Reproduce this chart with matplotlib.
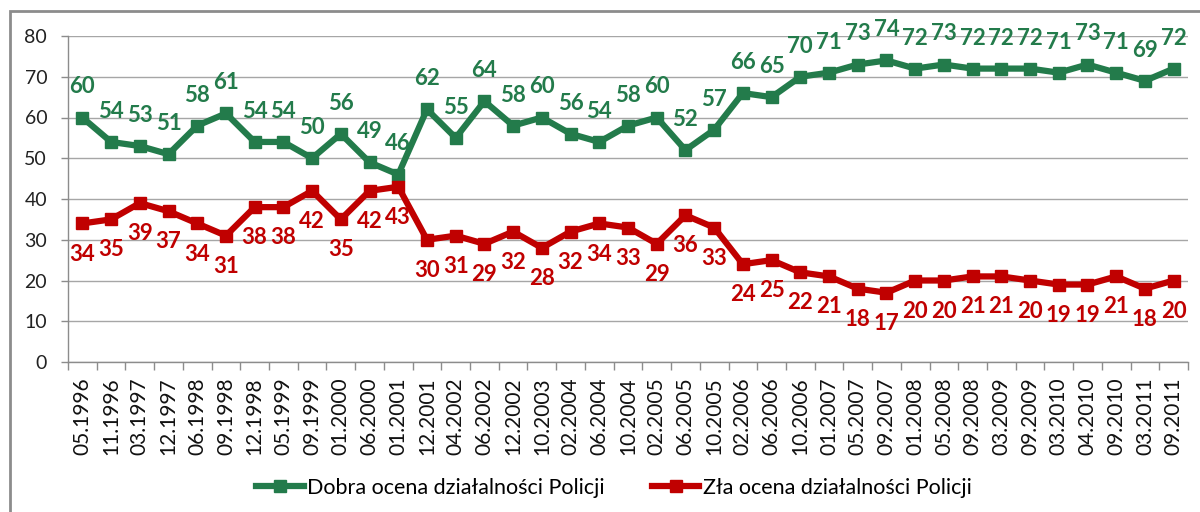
import matplotlib
matplotlib.use("Agg")
import matplotlib.pyplot as plt
from matplotlib.patches import Rectangle
from matplotlib.lines import Line2D

plt.rcParams['font.family'] = ['Lato', 'DejaVu Sans']

dates = ["05.1996", "11.1996", "03.1997", "12.1997", "06.1998", "09.1998", "12.1998",
         "05.1999", "09.1999", "01.2000", "06.2000", "01.2001", "12.2001", "04.2002",
         "06.2002", "12.2002", "10.2003", "02.2004", "06.2004", "10.2004", "02.2005",
         "06.2005", "10.2005", "02.2006", "06.2006", "10.2006", "01.2007", "05.2007",
         "09.2007", "01.2008", "05.2008", "09.2008", "03.2009", "09.2009", "03.2010",
         "04.2010", "09.2010", "03.2011", "09.2011"]
dobra = [60, 54, 53, 51, 58, 61, 54, 54, 50, 56, 49, 46, 62, 55, 64, 58, 60, 56, 54, 58,
         60, 52, 57, 66, 65, 70, 71, 73, 74, 72, 73, 72, 72, 72, 71, 73, 71, 69, 72]
zla = [34, 35, 39, 37, 34, 31, 38, 38, 42, 35, 42, 43, 30, 31, 29, 32, 28, 32, 34, 33,
       29, 36, 33, 24, 25, 22, 21, 18, 17, 20, 20, 21, 21, 20, 19, 19, 21, 18, 20]
label_dobra = "Dobra ocena działalności Policji"
label_zla = "Zła ocena działalności Policji"

GREEN = "#237b4b"
RED = "#c00000"
GRID = "#a6a6a6"
AXIS = "#8c8c8c"

fig = plt.figure(figsize=(12, 5.12), dpi=100)
fig.patches.append(Rectangle((10 / 1200, -0.1), 1.2, (1 - 11 / 512) + 0.1,
                             transform=fig.transFigure, fill=False,
                             edgecolor=AXIS, linewidth=2))

ax = fig.add_axes([68 / 1200, 1 - 362 / 512, (1188 - 68) / 1200, (362 - 36) / 512])
x = list(range(len(dates)))

ax.plot(x, dobra, color=GREEN, lw=4.5, marker="s", ms=9, zorder=3)
ax.plot(x, zla, color=RED, lw=4.5, marker="s", ms=9, zorder=4)

for xi, v in zip(x, dobra):
    ax.annotate(str(v), (xi, v), xytext=(0, 22), textcoords="offset points",
                ha="center", va="center", color=GREEN, fontsize=16, fontweight="bold")
for xi, v in zip(x, zla):
    ax.annotate(str(v), (xi, v), xytext=(0, -22), textcoords="offset points",
                ha="center", va="center", color=RED, fontsize=16, fontweight="bold")

ax.set_xlim(-0.5, len(dates) - 0.5)
ax.set_ylim(0, 80)
ax.set_yticks(range(0, 81, 10))
ax.tick_params(axis="y", labelsize=14, colors=AXIS, labelcolor="#222222",
               length=5, width=1, pad=10)
ax.grid(axis="y", color=GRID, lw=1)
ax.set_axisbelow(True)

ax.set_xticks(x)
ax.set_xticklabels(dates, rotation=90, fontsize=15, color="#111111")
ax.tick_params(axis="x", which="major", length=0, pad=11)
ax.set_xticks([i - 0.5 for i in range(len(dates) + 1)], minor=True)
ax.tick_params(axis="x", which="minor", length=6, width=1, colors=AXIS)

for s in ["top", "right"]:
    ax.spines[s].set_visible(False)
for s in ["left", "bottom"]:
    ax.spines[s].set_color(AXIS)
    ax.spines[s].set_linewidth(1)

handles = [Line2D([], [], color=GREEN, lw=4.5, marker="s", ms=9),
           Line2D([], [], color=RED, lw=4.5, marker="s", ms=9)]
fig.legend(handles, [label_dobra, label_zla], loc="center",
           bbox_to_anchor=(614 / 1200, 1 - 488 / 512), ncol=2, frameon=False,
           handlelength=2.2, columnspacing=2.2, handletextpad=0.15,
           prop={"size": 15.5})

fig.savefig("out.png", dpi=100)
